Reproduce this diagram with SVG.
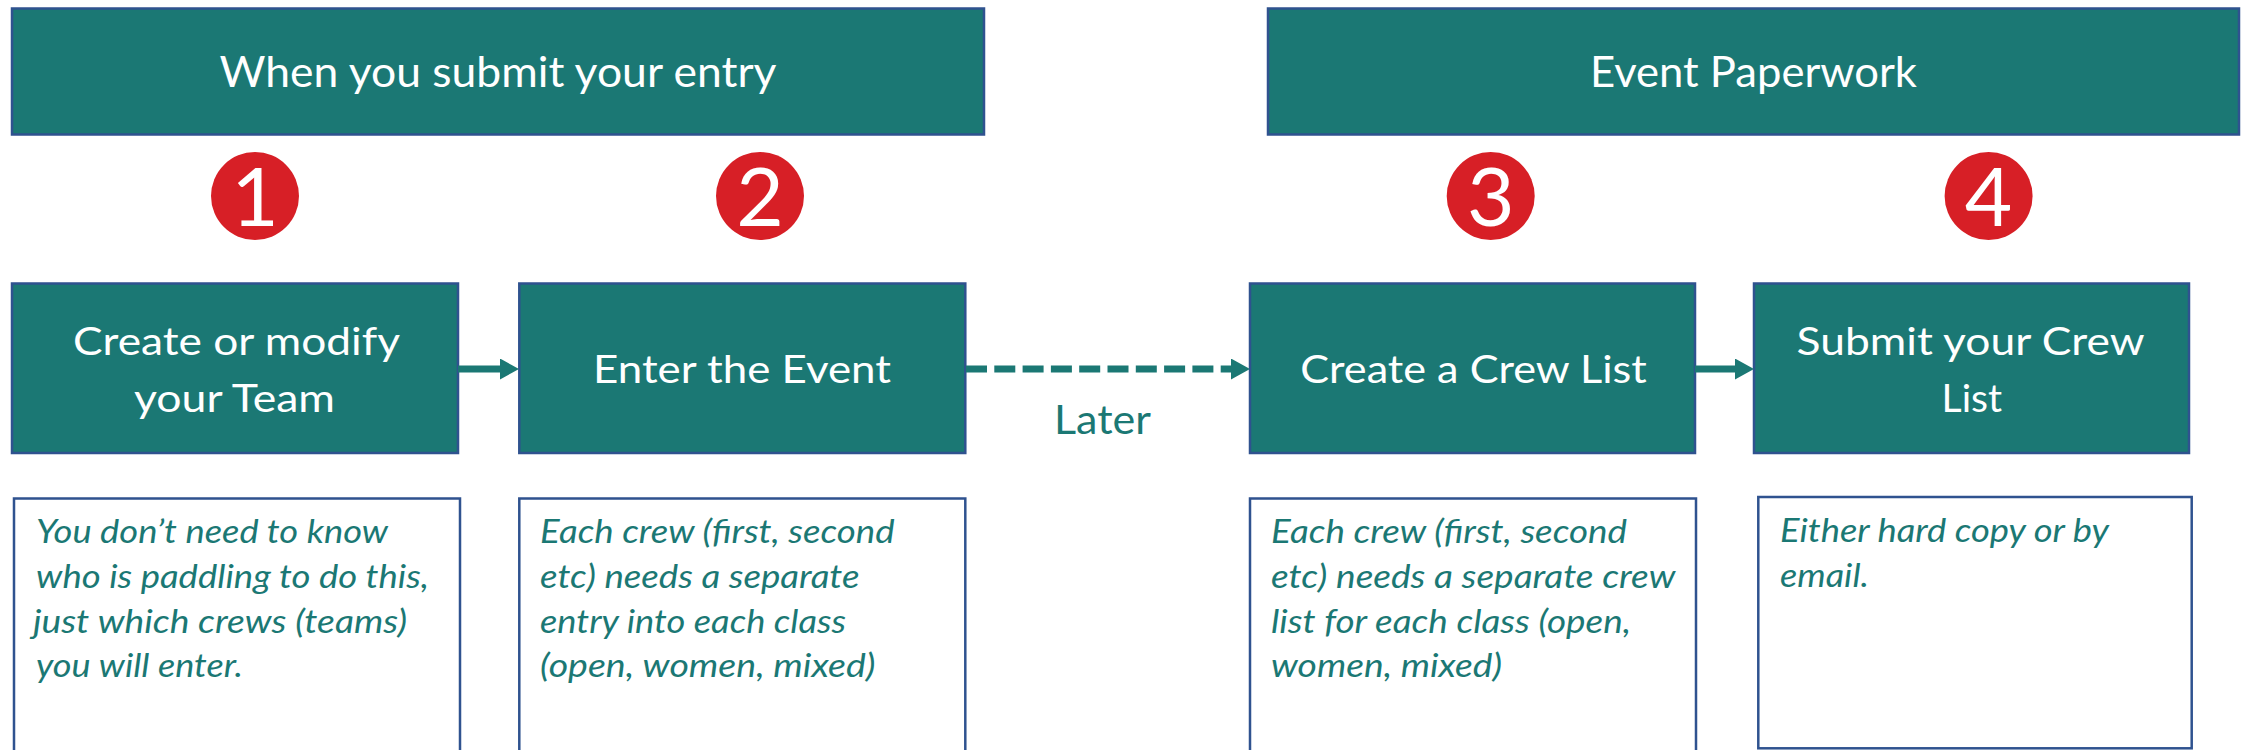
<svg xmlns="http://www.w3.org/2000/svg" width="2249" height="750" viewBox="0 0 2249 750">
  <style>
    .band { fill: #1b7874; stroke: #2f528f; stroke-width: 2.5; }
    .step { fill: #1b7874; stroke: #2f528f; stroke-width: 2.5; }
    .note { fill: #ffffff; stroke: #2f528f; stroke-width: 2.5; }
    .badge { fill: #d71f26; }
    .t { font-family: Lato, "Open Sans", sans-serif; }
    .head { fill: #ffffff; font-size: 42.8px; text-anchor: middle; }
    .lbl { fill: #ffffff; font-size: 39.5px; text-anchor: middle; }
    .num { fill: #ffffff; font-size: 82px; text-anchor: middle; }
    .txt { fill: #1b7874; font-size: 32.5px; font-style: italic; }
    .later { fill: #1b7874; font-size: 40px; text-anchor: middle; }
    .link { fill: none; stroke: #1b7874; stroke-width: 7; }
    .dash { stroke-dasharray: 21 7.3; }
  </style>
  <defs>
    <marker id="head" markerUnits="userSpaceOnUse" markerWidth="19" markerHeight="21" refX="0" refY="10.5" orient="auto">
      <path d="M0,0 L19,10.5 L0,21 Z" fill="#1b7874"/>
    </marker>
  </defs>

  <!-- section bands -->
  <g id="band-entry">
    <rect class="band" x="12" y="8.5" width="972" height="126"/>
    <text class="t head" x="498" y="87.3" textLength="557" lengthAdjust="spacingAndGlyphs">When you submit your entry</text>
  </g>
  <g id="band-paperwork">
    <rect class="band" x="1268" y="8.5" width="971" height="126"/>
    <text class="t head" x="1753.5" y="87.3" textLength="327" lengthAdjust="spacingAndGlyphs">Event Paperwork</text>
  </g>

  <!-- numbered badges -->
  <g id="badge-1">
    <circle class="badge" cx="255" cy="196" r="44"/>
    <text class="t num" x="255" y="226">1</text>
  </g>
  <g id="badge-2">
    <circle class="badge" cx="760" cy="196" r="44"/>
    <text class="t num" x="760" y="226">2</text>
  </g>
  <g id="badge-3">
    <circle class="badge" cx="1490.7" cy="196" r="44"/>
    <text class="t num" x="1490.7" y="226">3</text>
  </g>
  <g id="badge-4">
    <circle class="badge" cx="1988.6" cy="196" r="44"/>
    <text class="t num" x="1988.6" y="226">4</text>
  </g>

  <!-- process steps -->
  <g id="step-team">
    <rect class="step" x="12" y="283.5" width="446" height="169.5"/>
    <text class="t lbl" x="236.5" y="355" textLength="327" lengthAdjust="spacingAndGlyphs">Create or modify</text>
    <text class="t lbl" x="234.5" y="411.7" textLength="201" lengthAdjust="spacingAndGlyphs">your Team</text>
  </g>
  <g id="step-enter">
    <rect class="step" x="519.3" y="283.5" width="446" height="169.5"/>
    <text class="t lbl" x="742" y="383.3" textLength="298" lengthAdjust="spacingAndGlyphs">Enter the Event</text>
  </g>
  <g id="step-crewlist">
    <rect class="step" x="1250" y="283.5" width="445" height="169.5"/>
    <text class="t lbl" x="1473.5" y="383.3" textLength="346.5" lengthAdjust="spacingAndGlyphs">Create a Crew List</text>
  </g>
  <g id="step-submit">
    <rect class="step" x="1754" y="283.5" width="435" height="169.5"/>
    <text class="t lbl" x="1970.6" y="355" textLength="348" lengthAdjust="spacingAndGlyphs">Submit your Crew</text>
    <text class="t lbl" x="1971.8" y="411.7" textLength="60.5" lengthAdjust="spacingAndGlyphs">List</text>
  </g>

  <!-- notes under each step -->
  <g id="note-team">
    <rect class="note" x="14" y="498.5" width="446" height="260"/>
    <text class="t txt" x="36" y="542.7" textLength="352" lengthAdjust="spacingAndGlyphs">You don’t need to know</text>
    <text class="t txt" x="36" y="587.6" textLength="393" lengthAdjust="spacingAndGlyphs">who is paddling to do this,</text>
    <text class="t txt" x="33" y="632.5" textLength="374" lengthAdjust="spacingAndGlyphs">just which crews (teams)</text>
    <text class="t txt" x="36" y="677.3" textLength="207" lengthAdjust="spacingAndGlyphs">you will enter.</text>
  </g>
  <g id="note-enter">
    <rect class="note" x="519.3" y="498.5" width="446" height="260"/>
    <text class="t txt" x="540" y="542.7" textLength="354.5" lengthAdjust="spacingAndGlyphs">Each crew (first, second</text>
    <text class="t txt" x="540" y="587.6" textLength="319.5" lengthAdjust="spacingAndGlyphs">etc) needs a separate</text>
    <text class="t txt" x="540" y="632.5" textLength="306" lengthAdjust="spacingAndGlyphs">entry into each class</text>
    <text class="t txt" x="540" y="677.3" textLength="335.5" lengthAdjust="spacingAndGlyphs">(open, women, mixed)</text>
  </g>
  <g id="note-crewlist">
    <rect class="note" x="1250" y="498.5" width="446" height="260"/>
    <text class="t txt" x="1271" y="542.7" textLength="356" lengthAdjust="spacingAndGlyphs">Each crew (first, second</text>
    <text class="t txt" x="1271" y="587.6" textLength="404.5" lengthAdjust="spacingAndGlyphs">etc) needs a separate crew</text>
    <text class="t txt" x="1271" y="632.5" textLength="360" lengthAdjust="spacingAndGlyphs">list for each class (open,</text>
    <text class="t txt" x="1271" y="677.3" textLength="231" lengthAdjust="spacingAndGlyphs">women, mixed)</text>
  </g>
  <g id="note-submit">
    <rect class="note" x="1758.3" y="497" width="433.4" height="251.3"/>
    <text class="t txt" x="1780" y="541.7" textLength="329" lengthAdjust="spacingAndGlyphs">Either hard copy or by</text>
    <text class="t txt" x="1780" y="586.6" textLength="89" lengthAdjust="spacingAndGlyphs">email.</text>
  </g>

  <!-- connectors -->
  <g id="connectors">
    <line class="link" x1="458" y1="369" x2="500" y2="369" marker-end="url(#head)"/>
    <line class="link dash" x1="966" y1="369" x2="1231" y2="369" marker-end="url(#head)"/>
    <text class="t later" x="1102.5" y="434" textLength="97" lengthAdjust="spacingAndGlyphs">Later</text>
    <line class="link" x1="1695" y1="369" x2="1735" y2="369" marker-end="url(#head)"/>
  </g>
</svg>
